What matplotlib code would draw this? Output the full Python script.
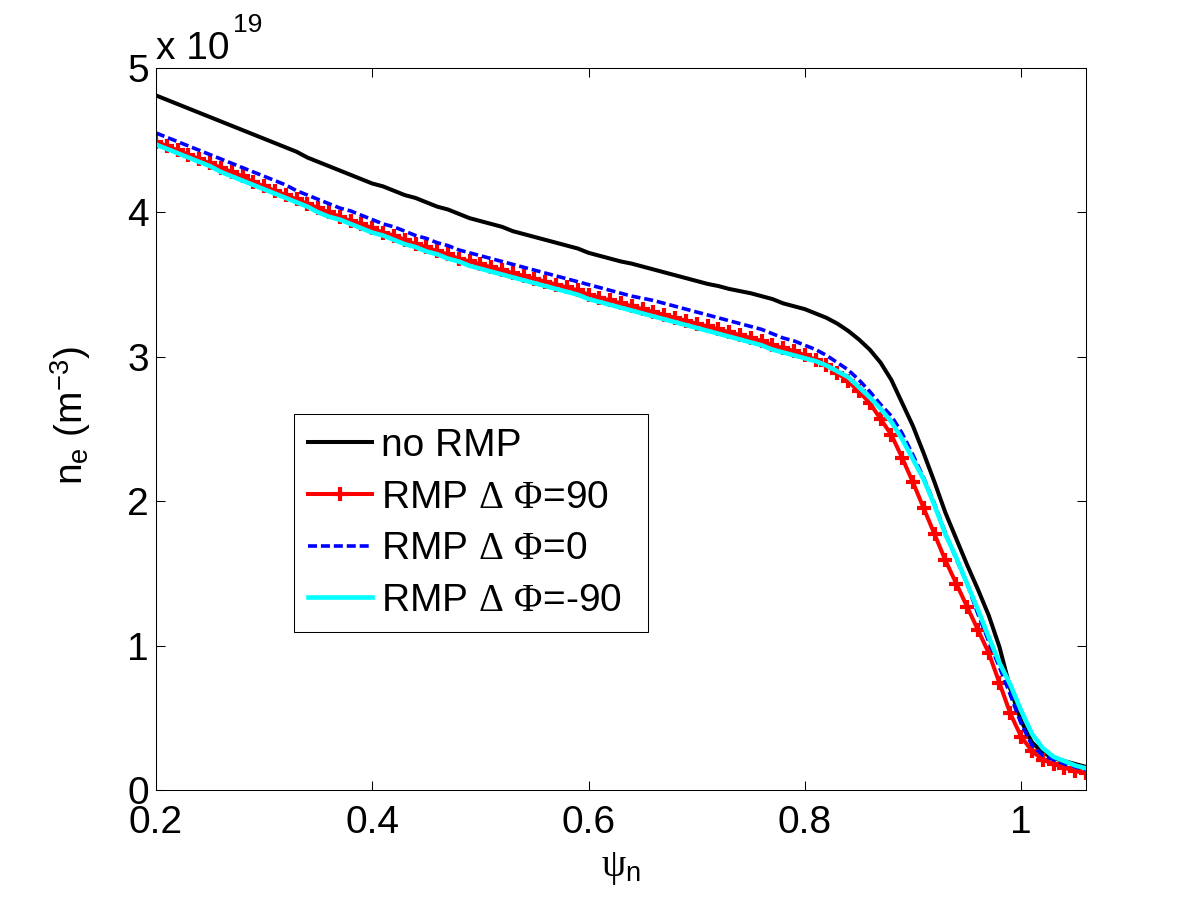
import numpy as np
import matplotlib
matplotlib.use("Agg")
import matplotlib.pyplot as plt

# electron density profiles, in units of 1e19 m^-3, read at psi_n = 0.20, 0.21, ..., 1.06
psi_n = np.round(np.arange(0.20, 1.065, 0.01), 2)

ne_no_rmp = [4.81, 4.78, 4.75, 4.72, 4.69, 4.66, 4.63, 4.60, 4.57, 4.54,
             4.51, 4.48, 4.45, 4.42, 4.38, 4.35, 4.32, 4.29, 4.26, 4.23,
             4.20, 4.18, 4.15, 4.12, 4.10, 4.07, 4.04, 4.02, 3.99, 3.96,
             3.94, 3.92, 3.90, 3.87, 3.85, 3.83, 3.81, 3.79, 3.77, 3.75,
             3.72, 3.70, 3.68, 3.66, 3.645, 3.625, 3.605, 3.585, 3.565, 3.545,
             3.525, 3.505, 3.49, 3.47, 3.455, 3.44, 3.42, 3.40, 3.37, 3.35,
             3.33, 3.30, 3.27, 3.23, 3.18, 3.12, 3.05, 2.96, 2.84, 2.68,
             2.52, 2.33, 2.13, 1.92, 1.74, 1.56, 1.39, 1.21, 0.99, 0.70,
             0.48, 0.33, 0.26, 0.22, 0.20, 0.18, 0.16]

ne_rmp_90 = [4.49, 4.46, 4.43, 4.40, 4.37, 4.34, 4.31, 4.28, 4.25, 4.21,
             4.18, 4.15, 4.12, 4.09, 4.06, 4.03, 4.00, 3.97, 3.94, 3.92,
             3.89, 3.86, 3.84, 3.81, 3.78, 3.76, 3.73, 3.71, 3.68, 3.66,
             3.64, 3.62, 3.60, 3.58, 3.56, 3.54, 3.52, 3.50, 3.48, 3.46,
             3.43, 3.41, 3.39, 3.37, 3.35, 3.33, 3.31, 3.29, 3.27, 3.25,
             3.23, 3.21, 3.19, 3.17, 3.15, 3.13, 3.11, 3.08, 3.06, 3.04,
             3.01, 2.98, 2.94, 2.89, 2.83, 2.76, 2.68, 2.57, 2.46, 2.30,
             2.13, 1.95, 1.77, 1.59, 1.43, 1.27, 1.11, 0.95, 0.74, 0.53,
             0.37, 0.27, 0.21, 0.18, 0.155, 0.13, 0.12]

ne_rmp_0 = [4.55, 4.52, 4.49, 4.46, 4.43, 4.40, 4.37, 4.34, 4.31, 4.28,
            4.25, 4.22, 4.19, 4.15, 4.12, 4.09, 4.06, 4.03, 4.01, 3.98,
            3.95, 3.92, 3.90, 3.87, 3.84, 3.82, 3.79, 3.77, 3.74, 3.72,
            3.70, 3.68, 3.66, 3.64, 3.62, 3.60, 3.58, 3.56, 3.54, 3.52,
            3.50, 3.48, 3.46, 3.44, 3.42, 3.405, 3.39, 3.37, 3.35, 3.33,
            3.31, 3.29, 3.27, 3.25, 3.23, 3.21, 3.19, 3.16, 3.13, 3.11,
            3.08, 3.05, 3.01, 2.96, 2.91, 2.84, 2.76, 2.67, 2.59, 2.47,
            2.32, 2.16, 1.98, 1.78, 1.60, 1.43, 1.22, 1.03, 0.85, 0.66,
            0.46, 0.31, 0.24, 0.21, 0.18, 0.16, 0.14]

ne_rmp_m90 = [4.47, 4.44, 4.41, 4.38, 4.35, 4.32, 4.28, 4.25, 4.22, 4.19,
              4.16, 4.13, 4.10, 4.07, 4.04, 4.00, 3.97, 3.95, 3.92, 3.89,
              3.86, 3.84, 3.81, 3.78, 3.76, 3.73, 3.71, 3.68, 3.66, 3.63,
              3.61, 3.59, 3.57, 3.55, 3.53, 3.51, 3.49, 3.47, 3.45, 3.43,
              3.40, 3.38, 3.36, 3.34, 3.32, 3.30, 3.28, 3.26, 3.24, 3.22,
              3.20, 3.18, 3.16, 3.14, 3.12, 3.10, 3.08, 3.05, 3.03, 3.01,
              2.99, 2.97, 2.94, 2.90, 2.86, 2.79, 2.72, 2.64, 2.55, 2.43,
              2.29, 2.15, 1.97, 1.77, 1.61, 1.43, 1.25, 1.06, 0.88, 0.73,
              0.55, 0.39, 0.29, 0.23, 0.20, 0.17, 0.15]

labels = ['no RMP',
          r'RMP $\mathrm{\Delta}$ $\mathrm{\Phi}$=90',
          r'RMP $\mathrm{\Delta}$ $\mathrm{\Phi}$=0',
          r'RMP $\mathrm{\Delta}$ $\mathrm{\Phi}$=-90' + '\u00a0\u00a0']

plt.rcParams['font.family'] = ['Liberation Sans', 'DejaVu Sans']
plt.rcParams['font.size'] = 28
plt.rcParams['mathtext.fontset'] = 'custom'
plt.rcParams['mathtext.rm'] = 'Liberation Serif'
plt.rcParams['mathtext.it'] = 'Liberation Serif:italic'
plt.rcParams['mathtext.sf'] = 'Liberation Sans'
plt.rcParams['lines.scale_dashes'] = False

fig = plt.figure(figsize=(12, 9), dpi=100)
ax = fig.add_axes([156 / 1200, 110 / 900, 930 / 1200, 722 / 900])

ax.plot(psi_n, ne_no_rmp, color='k', lw=2.9, label=labels[0])
ax.plot(psi_n, ne_rmp_90, color='#ff0000', lw=2.9, marker='+', ms=10.5, mew=3,
        label=labels[1])
ax.plot(psi_n, ne_rmp_0, color='#0000ff', lw=2.6, dashes=(6.5, 2.8),
        label=labels[2])
ax.plot(psi_n, ne_rmp_m90, color='#00ffff', lw=3.3, label=labels[3])

ax.set_xlim(0.2, 1.06)
ax.set_ylim(0, 5)
ax.set_xticks([0.2, 0.4, 0.6, 0.8, 1.0])
ax.set_xticklabels(['0.2', '0.4', '0.6', '0.8', '1'])
ax.set_yticks([0, 1, 2, 3, 4, 5])
ax.tick_params(direction='in', top=True, right=True, length=6.5, width=0.75)
ax.tick_params(axis='x', pad=11)
ax.tick_params(axis='y', pad=5)
for s in ax.spines.values():
    s.set_linewidth(0.75)

# scale factor above the y axis
ax.text(0.0, 1.0125, 'x 10', transform=ax.transAxes, ha='left', va='baseline')
ax.text(0.083, 1.05, '19', transform=ax.transAxes, ha='left', va='baseline',
        fontsize=19)

ax.set_xlabel(r'$\mathrm{\psi}_{\mathsf{n}}$', labelpad=6)
ax.set_ylabel(r'n$_{\mathsf{e}}$ (m$^{\mathsf{-3}}$)')
ax.yaxis.set_label_coords(-0.068, 0.518)

leg = ax.legend(loc='lower left', bbox_to_anchor=(0.1487, 0.2184),
                borderaxespad=0, handlelength=1.64, handletextpad=0.25,
                labelspacing=0.4, borderpad=0.35, fancybox=False,
                framealpha=1, edgecolor='k')
leg.get_frame().set_linewidth(0.75)

fig.savefig('out.png', dpi=100, facecolor='white')
